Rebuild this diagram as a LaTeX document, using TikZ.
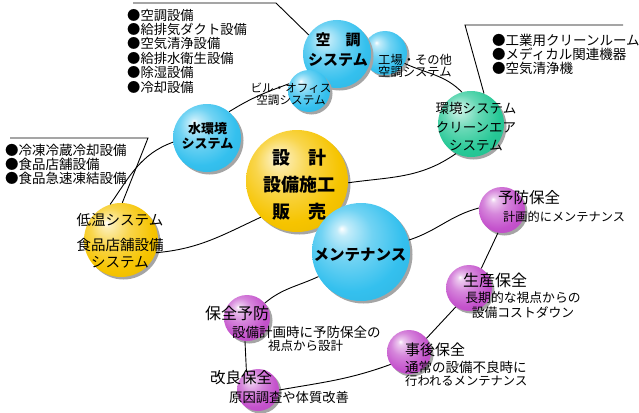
\documentclass[tikz,border=0pt]{standalone}
\usepackage{fontspec}
\setmainfont{Noto Sans CJK JP}
\definecolor{orbblue}{RGB}{52,192,238}
\definecolor{orbgreen}{RGB}{38,200,150}
\definecolor{orbyellow}{RGB}{246,196,0}
\definecolor{orbpurple}{RGB}{196,82,204}
\definecolor{orbshadow}{RGB}{165,165,165}
\colorlet{spherecol}{orbblue}
\pgfdeclareradialshading[spherecol]{orbshade}{\pgfqpoint{-10bp}{12bp}}{color(0bp)=(white); color(3bp)=(spherecol!30!white); color(13bp)=(spherecol!70!white); color(26bp)=(spherecol); color(38bp)=(spherecol!94!black); color(50bp)=(spherecol!90!black)}
\newcommand\fsz[2]{\fontsize{#1}{#2}\selectfont}
\tikzset{
  orb/.style={circle, inner sep=0pt, minimum size=#1},
  orbfill/.code={\colorlet{spherecol}{#1}\tikzset{shade, shading=orbshade}},
  orbshd/.style={fill=orbshadow},
  lbl/.style={inner sep=0pt, align=left},
  lblc/.style={inner sep=0pt, align=center},
  conn/.style={draw=black, line width=0.9pt},
}
\begin{document}
\begin{tikzpicture}[x=1pt,y=-1pt]
\fill[white] (0,0) rectangle (639,412);
\useasboundingbox (0,0) rectangle (639,412);

% callout anchor points
\coordinate (tlA) at (133,3);
\coordinate (tlB) at (276,3);
\coordinate (trA) at (465,25);
\coordinate (trB) at (623,25);
\coordinate (llA) at (10,138);
\coordinate (llB) at (148,138);

% spheres (shadows first)
\fill[orbshd] (387.5,55.5) circle[radius=22];
\node[orb=44, orbfill=orbblue] (kj) at (385,53) {};
\fill[orbshd] (339.5,56.5) circle[radius=34];
\node[orb=68, orbfill=orbblue] (kc) at (337,54) {};
\fill[orbshd] (311.5,93.5) circle[radius=21];
\node[orb=42, orbfill=orbblue] (bil) at (309,91) {};
\fill[orbshd] (209.5,140.5) circle[radius=34];
\node[orb=68, orbfill=orbblue] (mz) at (207,138) {};
\fill[orbshd] (473.5,126.5) circle[radius=33];
\node[orb=66, orbfill=orbgreen] (kyo) at (471,124) {};
\fill[orbshd] (299.5,183.5) circle[radius=51];
\node[orb=102, orbfill=orbyellow] (set) at (297,181) {};
\fill[orbshd] (363.5,254.5) circle[radius=49];
\node[orb=98, orbfill=orbblue] (men) at (361,252) {};
\fill[orbshd] (123.5,242.5) circle[radius=37];
\node[orb=74, orbfill=orbyellow] (tei) at (121,240) {};
\fill[orbshd] (504.5,212.5) circle[radius=23];
\node[orb=46, orbfill=orbpurple] (pre) at (502,210) {};
\fill[orbshd] (471.5,290.5) circle[radius=23];
\node[orb=46, orbfill=orbpurple] (sei) at (469,288) {};
\fill[orbshd] (411.5,354.5) circle[radius=22];
\node[orb=44, orbfill=orbpurple] (jigo) at (409,352) {};
\fill[orbshd] (249.5,320.5) circle[radius=23];
\node[orb=46, orbfill=orbpurple] (hz) at (247,318) {};
\fill[orbshd] (260.5,392.5) circle[radius=21];
\node[orb=42, orbfill=orbpurple] (kr) at (258,390) {};

% connectors
\draw[conn] (tlA) -- (tlB) -- (kc.146);
\draw[conn] (trB) -- (trA) -- (kyo.67);
\draw[conn] (llA) -- (llB) -- (tei.88);
\draw[conn] (tei.107) to[out=55,in=200] (mz.187);
\draw[conn] (mz.50) to[out=32,in=200] (bil.160);
\draw[conn] (kj.-28) to[out=-25,in=135] (kyo.106);
\draw[conn] (tei.-20) to[out=5,in=205] (set.225);
\draw[conn] (set.-2) to[out=8,in=215] (kyo.243);
\draw[conn] (men.14) to[out=18,in=195] (pre.175);
\draw[conn] (pre.-100) -- (sei.58);
\draw[conn] (sei.235) -- (jigo.38);
\draw[conn] (jigo.214) to[out=200,in=10] (kr.0);
\draw[conn] (hz.-95) -- (kr.123);
\draw[conn] (hz.40) to[out=40,in=205] (men.210);

% lists
\node[lbl, anchor=west, font=\fsz{13.3}{14.4}] (tllist) at (127,51) {●空調設備\\●給排気ダクト設備\\●空気清浄設備\\●給排水衛生設備\\●除湿設備\\●冷却設備};
\node[lbl, anchor=west, font=\fsz{13.5}{14}] (trlist) at (492,54) {●工業用クリーンルーム\\●メディカル関連機器\\●空気清浄機};
\node[lbl, anchor=west, font=\fsz{13.5}{14}] (lllist) at (5,164) {●冷凍冷蔵冷却設備\\●食品店舗設備\\●食品急速凍結設備};

% sphere labels
\node[lblc, font=\fsz{15}{20}\bfseries] (kclbl) at (338,50) {空　調\\システム};
\node[lbl, anchor=west, font=\fsz{12.3}{12.5}] (kjlbl) at (378,66) {工場・その他\\空調システム};
\node[lblc, font=\fsz{11.6}{12.5}] (billbl) at (291,94) {ビル・オフィス\\空調システム};
\node[lblc, font=\fsz{13}{15}\bfseries] (mzlbl) at (207.5,135.5) {水環境\\システム};
\node[lblc, font=\fsz{13.5}{18.5}] (kyolbl) at (476,127) {環境システム\\クリーンエア\\システム};
\node[lblc, font=\fsz{18}{27}\bfseries] (setlbl) at (299,185) {設　計\\設備施工\\販　売};
\node[lblc, font=\fsz{15.5}{18}\bfseries] (menlbl) at (360,255) {メンテナンス};
\node[lblc, font=\fsz{14.5}{17}] (teilbl) at (120,241) {低温システム\\[8pt]食品店舗設備\\システム};

\node[lbl, anchor=west, font=\fsz{15.5}{17}] (prelbl) at (498,198) {予防保全};
\node[lbl, anchor=west, font=\fsz{12.2}{13}] (presub) at (503,217) {計画的にメンテナンス};
\node[lbl, anchor=west, font=\fsz{16}{17}] (seilbl) at (463,280) {生産保全};
\node[lblc, font=\fsz{12.8}{15}] (seisub) at (523,305.5) {長期的な視点からの\\設備コストダウン};
\node[lbl, anchor=west, font=\fsz{15}{17}] (jigolbl) at (405,350) {事後保全};
\node[lbl, anchor=west, font=\fsz{13.5}{14}] (jigosub1) at (405,367) {通常の設備不良時に};
\node[lbl, anchor=west, font=\fsz{12.3}{13}] (jigosub2) at (405,380.5) {行われるメンテナンス};
\node[lbl, anchor=west, font=\fsz{16}{17}] (hzlbl) at (205,313) {保全予防};
\node[lbl, anchor=west, font=\fsz{13.5}{14}] (hzsub1) at (232,332) {設備計画時に予防保全の};
\node[lbl, anchor=west, font=\fsz{12.5}{13}] (hzsub2) at (268,345.5) {視点から設計};
\node[lbl, anchor=west, font=\fsz{15.5}{17}] (krlbl) at (210,378) {改良保全};
\node[lbl, anchor=west, font=\fsz{13.3}{14}] (krsub) at (229,397) {原因調査や体質改善};
\end{tikzpicture}
\end{document}
